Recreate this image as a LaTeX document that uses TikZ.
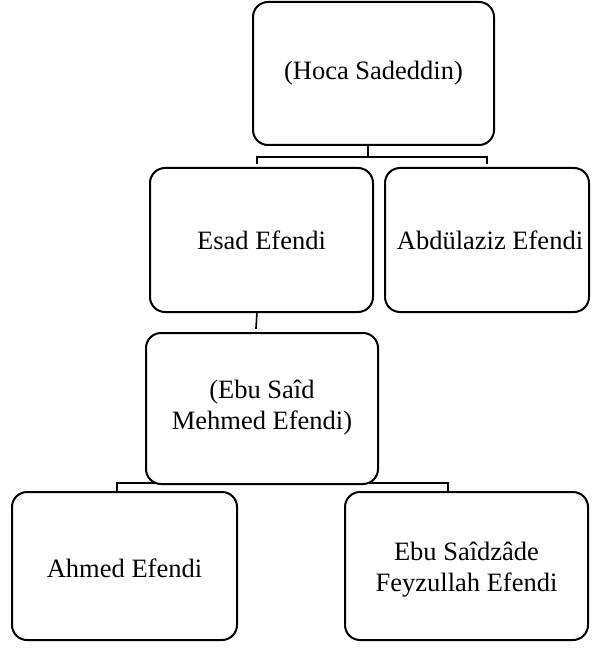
\documentclass[tikz,border=0pt]{standalone}
\usepackage{fontspec}
\setmainfont{Liberation Serif}
\begin{document}
\begin{tikzpicture}[x=1bp,y=-1bp,
  famline/.style={line width=1.6bp, line cap=rect},
  fambox/.style={draw, line width=2bp, rounded corners=15bp, fill=white},
  famtext/.style={align=center, font=\fontsize{26.5bp}{31bp}\selectfont}]
\useasboundingbox (0,0) rectangle (592,648);
% connectors (behind boxes)
\coordinate (c1) at (368,145);
\coordinate (c1m) at (368,157);
\coordinate (c1l) at (257,157);
\coordinate (c1r) at (487,157);
\coordinate (c1ld) at (257,163);
\coordinate (c1rd) at (487,163);
\draw[famline] (c1) -- (c1m);
\draw[famline] (c1ld) -- (c1l) -- (c1r) -- (c1rd);
\coordinate (c2a) at (257,312);
\coordinate (c2b) at (256,328);
\draw[famline] (c2a) -- (c2b);
\coordinate (c3l) at (117,483);
\coordinate (c3r) at (448,483);
\coordinate (c3ld) at (117,490);
\coordinate (c3rd) at (448,490);
\draw[famline] (c3ld) -- (c3l) -- (c3r) -- (c3rd);
% boxes
\draw[fambox] (253,2) rectangle (494,145);
\node[famtext] (hoca) at (373.5,73.5) {(Hoca Sadeddin)};
\draw[fambox] (150,168) rectangle (373,312);
\node[famtext] (esad) at (261.5,240) {Esad Efendi};
\draw[fambox] (385,168) rectangle (589,312);
\node[famtext] (abdul) at (490,240) {Abdülaziz Efendi};
\draw[fambox] (146,333) rectangle (378,484);
\node[famtext] (ebu) at (262,408) {(Ebu Saîd\\Mehmed Efendi)};
\draw[fambox] (12,492) rectangle (237,640);
\node[famtext] (ahmed) at (124.5,568) {Ahmed Efendi};
\draw[fambox] (345,492) rectangle (588,640);
\node[famtext] (feyz) at (466.5,570) {Ebu Saîdzâde\\Feyzullah Efendi};
\end{tikzpicture}
\end{document}
